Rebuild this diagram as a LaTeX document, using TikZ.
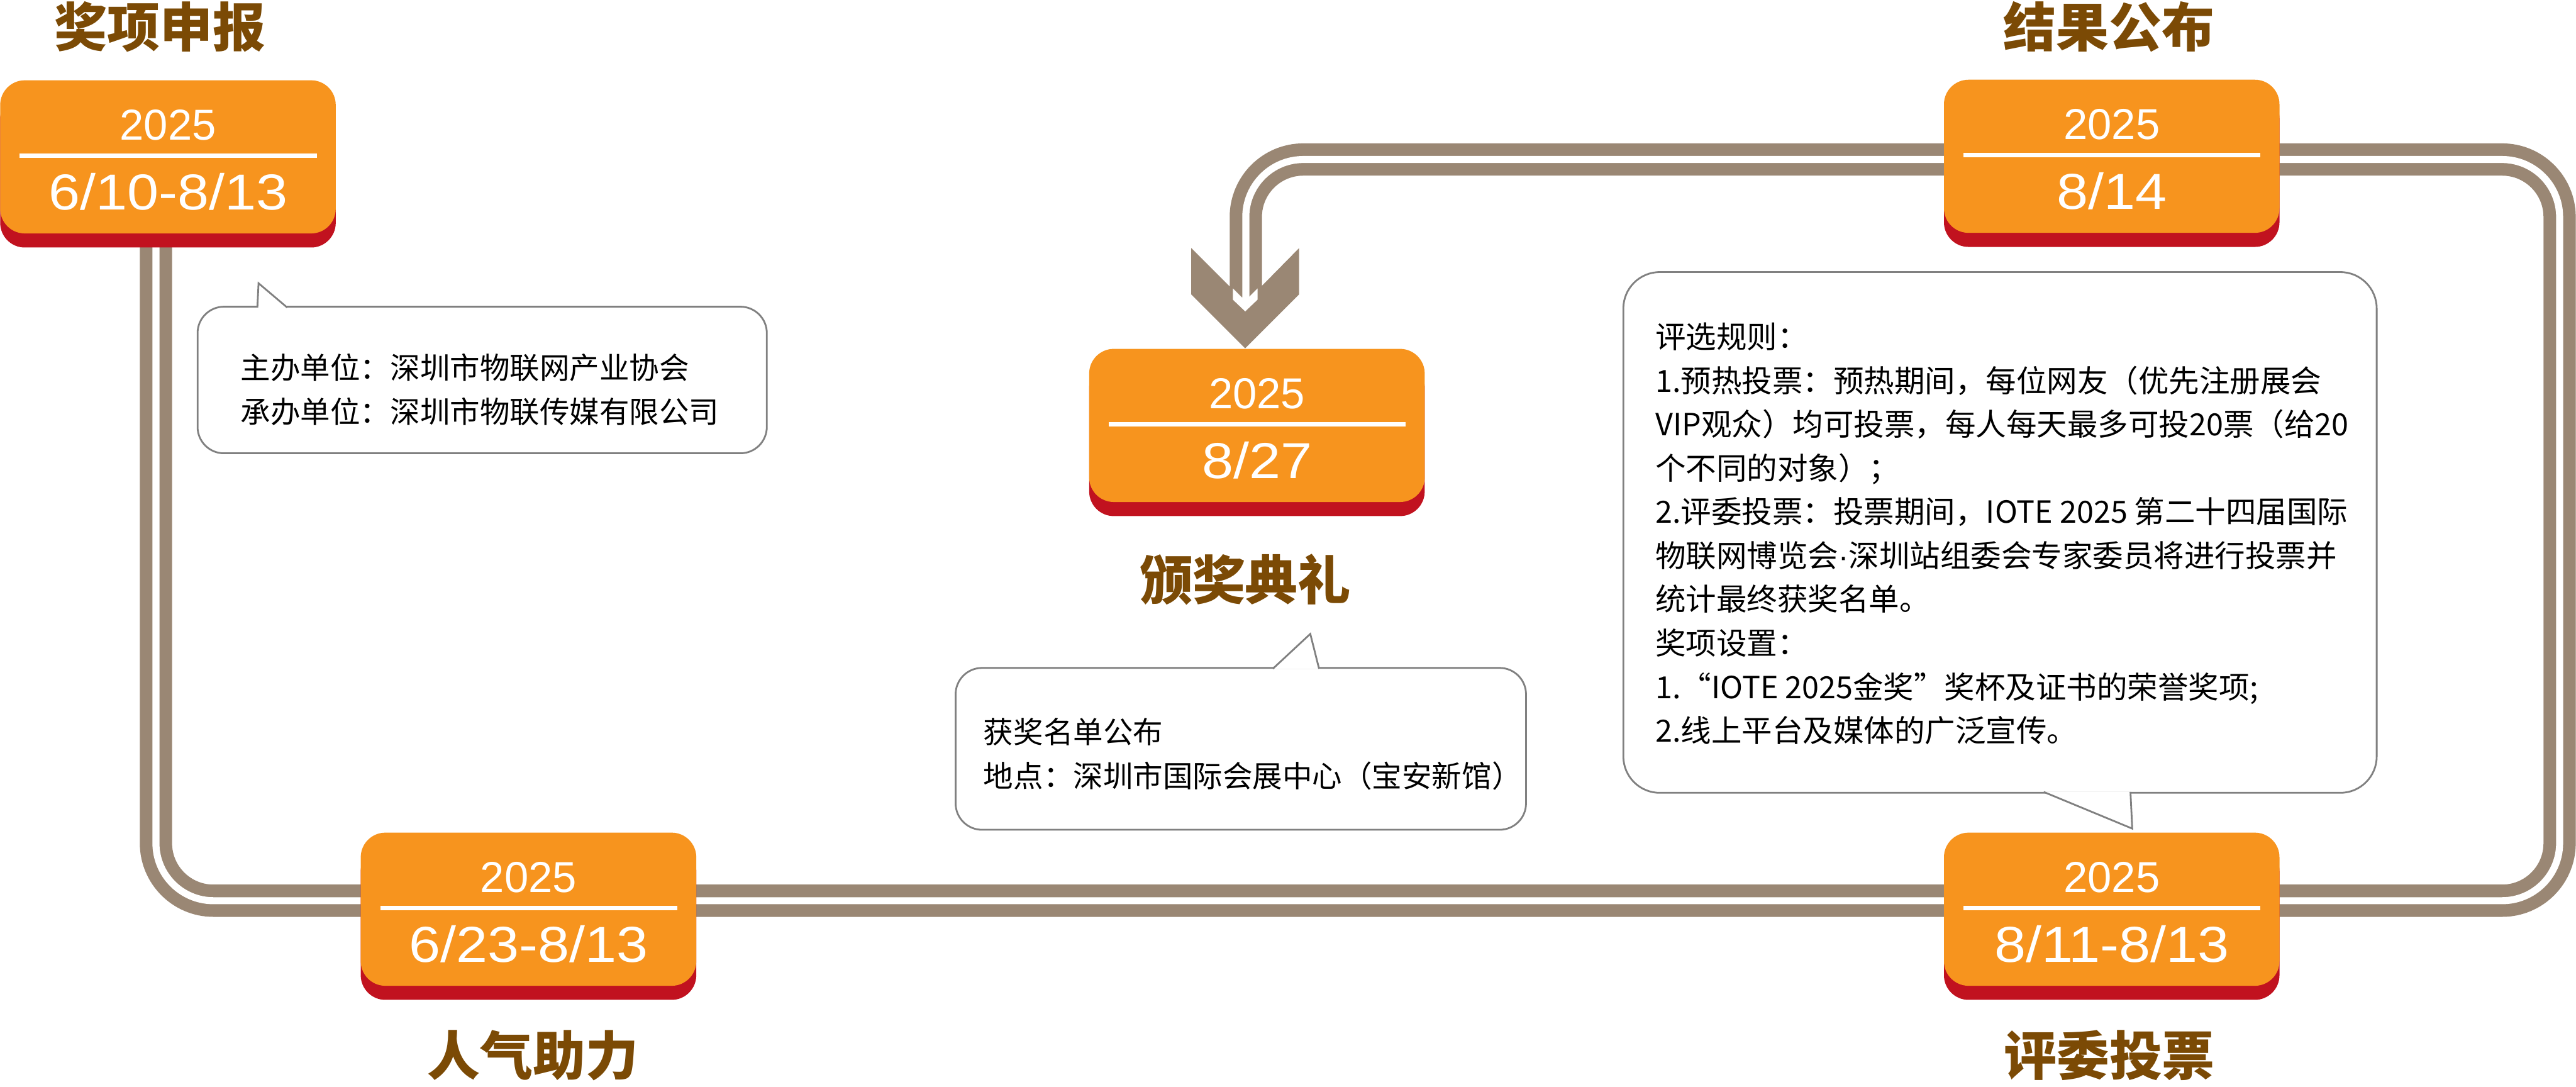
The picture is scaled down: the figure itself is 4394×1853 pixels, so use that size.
\documentclass[tikz,border=0pt]{standalone}
\usepackage{fontspec}
\setmainfont{Liberation Sans}
\newfontfamily\cjk{Noto Sans CJK SC}
\newfontfamily\datefont[FakeStretch=1.12]{Liberation Sans}
\usetikzlibrary{shadows}
\definecolor{pipebrown}{RGB}{154,135,116}
\definecolor{cardorange}{RGB}{247,148,30}
\definecolor{cardred}{RGB}{193,18,31}
\definecolor{titlebrown}{RGB}{123,74,5}
\definecolor{bubblegray}{RGB}{128,128,128}
\tikzset{
  card/.style={rectangle, rounded corners=0.42cm, fill=cardorange, minimum width=5.72cm,
    minimum height=2.61cm, inner sep=0pt,
    drop shadow={shadow xshift=0pt, shadow yshift=-0.24cm, fill=cardred, opacity=1}},
  year/.style={text=white, inner sep=0pt, font=\fontsize{21}{24}\selectfont},
  datetext/.style={text=white, inner sep=0pt, font=\datefont\fontsize{24.5}{28}\selectfont},
  divider/.style={white, line width=0.08cm},
  title/.style={text=titlebrown, inner sep=0pt, font=\cjk\bfseries\fontsize{25.6}{30}\selectfont},
  bubble/.style={draw=bubblegray, line width=0.03cm, fill=white},
  bubtext/.style={inner sep=0pt, anchor=base west, font=\cjk\fontsize{14.5}{20}\selectfont},
  pipe/.style={pipebrown, line width=0.55cm, rounded corners=0.98cm},
  pipegap/.style={white, line width=0.12cm, rounded corners=0.98cm}
}
\begin{document}
\begin{tikzpicture}[x=0.01cm,y=-0.01cm]
  \useasboundingbox (0,0) rectangle (4394,1853);
  \fill[white] (0,0) rectangle (4394,1853);

  % Track round the timeline
  \coordinate (pipestart) at (266,400);
  \coordinate (chevtip) at (2124,594);
  \draw[pipe] (pipestart) -- (266,1536) -- (4366,1536) -- (4366,272) -- (2125,272) -- (2125,520);

  % Arrow head into the ceremony
  \fill[pipebrown] (2097,488) -- (2032,423) -- (2032,502) -- (chevtip) -- (2216,502) -- (2216,423) -- (2152,488) -- cycle;
  \draw[pipegap] (pipestart) -- (266,1536) -- (4366,1536) -- (4366,272) -- (2125,272) -- (2125,508);
  \fill[white] (2103,492) -- (2118,507) -- (2130,507) -- (2145,492) -- (2145,511) -- (2124,531) -- (2103,511) -- cycle;

  % Date cards
  \foreach \n/\cx/\cy/\d in {1/286.5/267.5/{6/10-8/13}, 2/901.5/1550.5/{6/23-8/13},
      3/3602/1550.5/{8/11-8/13}, 4/3602/266.5/{8/14}, 5/2144/725.5/{8/27}} {
    \node[card] (c\n) at (\cx,\cy) {};
    \node[year] (y\n) at ([yshift=-0.77cm]c\n.north) {2025};
    \draw[divider] ([xshift=0.34cm,yshift=-1.29cm]c\n.north west) -- ([xshift=-0.33cm,yshift=-1.29cm]c\n.north east);
    \node[datetext] (d\n) at ([yshift=-1.91cm]c\n.north) {\d};
  }

  % Stage titles
  \node[title] (t1) at (273,46) {奖项申报};
  \node[title] (t2) at (909,1800) {人气助力};
  \node[title] (t3) at (3598,1800) {评委投票};
  \node[title] (t4) at (3597,46) {结果公布};
  \node[title] (t5) at (2124,988) {颁奖典礼};

  % Organisers
  \draw[bubble, rounded corners=0.45cm] (337,523) rectangle (1308,773);
  \draw[bubble] (439,524.5) -- (441,483) -- (490,524.5);
  \node[bubtext] (org1) at (410,646) {主办单位：深圳市物联网产业协会};
  \node[bubtext] (org2) at (410,721) {承办单位：深圳市物联传媒有限公司};

  % Ceremony
  \draw[bubble, rounded corners=0.45cm] (1630,1139) rectangle (2603,1415);
  \draw[bubble] (2171,1140.5) -- (2235,1081) -- (2250,1140.5);
  \node[bubtext] (cer1) at (1677,1267) {获奖名单公布};
  \node[bubtext] (cer2) at (1677,1342) {地点：深圳市国际会展中心（宝安新馆）};

  % Rules
  \draw[bubble, rounded corners=0.62cm] (2769,464) rectangle (4054,1352);
  \draw[bubble] (3486,1350.5) -- (3637,1413) -- (3634,1350.5);
  \foreach \t [count=\i] in {评选规则：, 1.预热投票：预热期间，每位网友（优先注册展会,
      VIP观众）均可投票，每人每天最多可投20票（给20, 个不同的对象）；,
      2.评委投票：投票期间，IOTE 2025 第二十四届国际, 物联网博览会{\rmfamily ·}深圳站组委会专家委员将进行投票并,
      统计最终获奖名单。, 奖项设置：, 1.“IOTE 2025金奖”奖杯及证书的荣誉奖项;, 2.线上平台及媒体的广泛宣传。} {
    \node[bubtext, font=\cjk\fontsize{14.8}{20}\selectfont] (rule\i) at (2823,{594+74.6*(\i-1)}) {\t};
  }
\end{tikzpicture}
\end{document}
